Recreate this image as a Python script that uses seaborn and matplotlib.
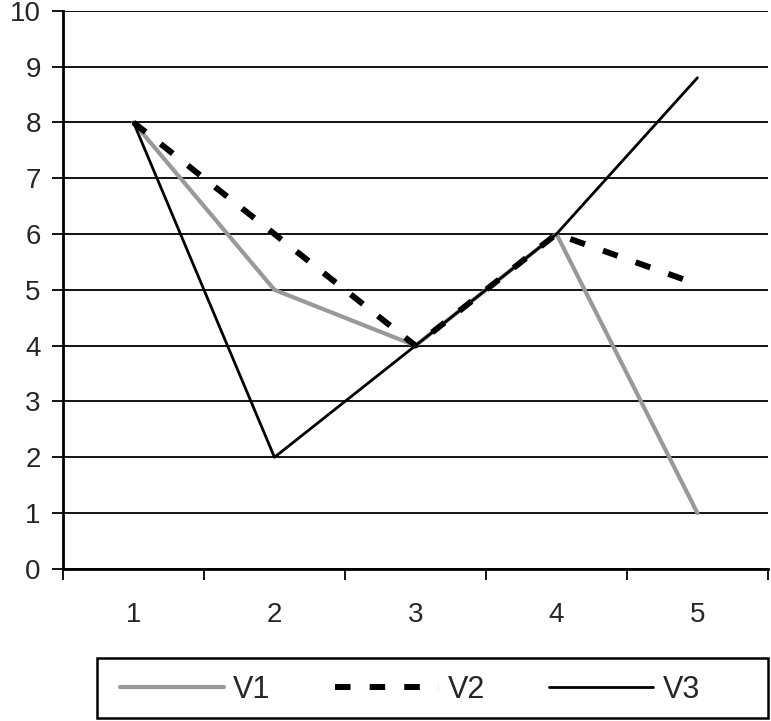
import numpy as np
import pandas as pd
import matplotlib
matplotlib.use('Agg')
import matplotlib.pyplot as plt
import seaborn as sns

# data
categories = [1, 2, 3, 4, 5]
v1 = [8, 5, 4, 6, 1]
v2 = [8, 6, 4, 6, 5.1]
v3 = [8, 2, 4, 6, 8.8]

df = pd.DataFrame({'x': categories * 3,
                   'y': v1 + v2 + v3,
                   'series': ['V1'] * 5 + ['V2'] * 5 + ['V3'] * 5})

sns.set_style('white')
plt.rcParams['font.family'] = ['Liberation Sans', 'DejaVu Sans']

fig = plt.figure(figsize=(7.71, 7.21), dpi=100)
ax = fig.add_axes([0.0817, 0.211, 0.9143, 0.774])

styles = {'V1': dict(color='#999999', lw=3, ls='-'),
          'V2': dict(color='black', lw=4.3, ls=(0, (2.6, 3.2))),
          'V3': dict(color='black', lw=2, ls='-')}

for s in ['V1', 'V2', 'V3']:
    d = df[df.series == s]
    st = styles[s]
    sns.lineplot(data=d, x='x', y='y', ax=ax, color=st['color'], linewidth=st['lw'],
                 linestyle=st['ls'], label=s, legend=False)

ax.set_xlim(0.5, 5.5)
ax.set_ylim(0, 10)
ax.set_yticks(range(0, 11))
ax.yaxis.grid(True, color='black', lw=1.3)
ax.set_axisbelow(True)
ax.set_xticks(categories)
ax.set_xticks(np.arange(0.5, 6, 1), minor=True)
ax.tick_params(axis='x', which='major', bottom=True, length=0, pad=24, labelsize=20)
ax.tick_params(axis='x', which='minor', bottom=True, length=8, width=1.3, color='black', direction='out')
ax.tick_params(axis='y', left=True, length=8, width=1.3, color='black', direction='out', labelsize=20, pad=8)
ax.set_xlabel('')
ax.set_ylabel('')
for side in ['top', 'right']:
    ax.spines[side].set_visible(False)
for side in ['left', 'bottom']:
    ax.spines[side].set_color('black')
    ax.spines[side].set_linewidth(2)

# legend box
box = plt.Rectangle((0.1258, 0.0042), 0.8703, 0.0832, transform=fig.transFigure,
                    fill=False, edgecolor='black', lw=1.8)
fig.patches.append(box)

handles, labels = ax.get_legend_handles_labels()
leg = fig.legend(handles, labels, loc='center left', bbox_to_anchor=(0.156, 0.043),
                 ncol=3, frameon=False, fontsize=22, handlelength=3.4,
                 handletextpad=0.3, columnspacing=2.1, borderaxespad=0, borderpad=0)

fig.savefig('out.png', dpi=100)
